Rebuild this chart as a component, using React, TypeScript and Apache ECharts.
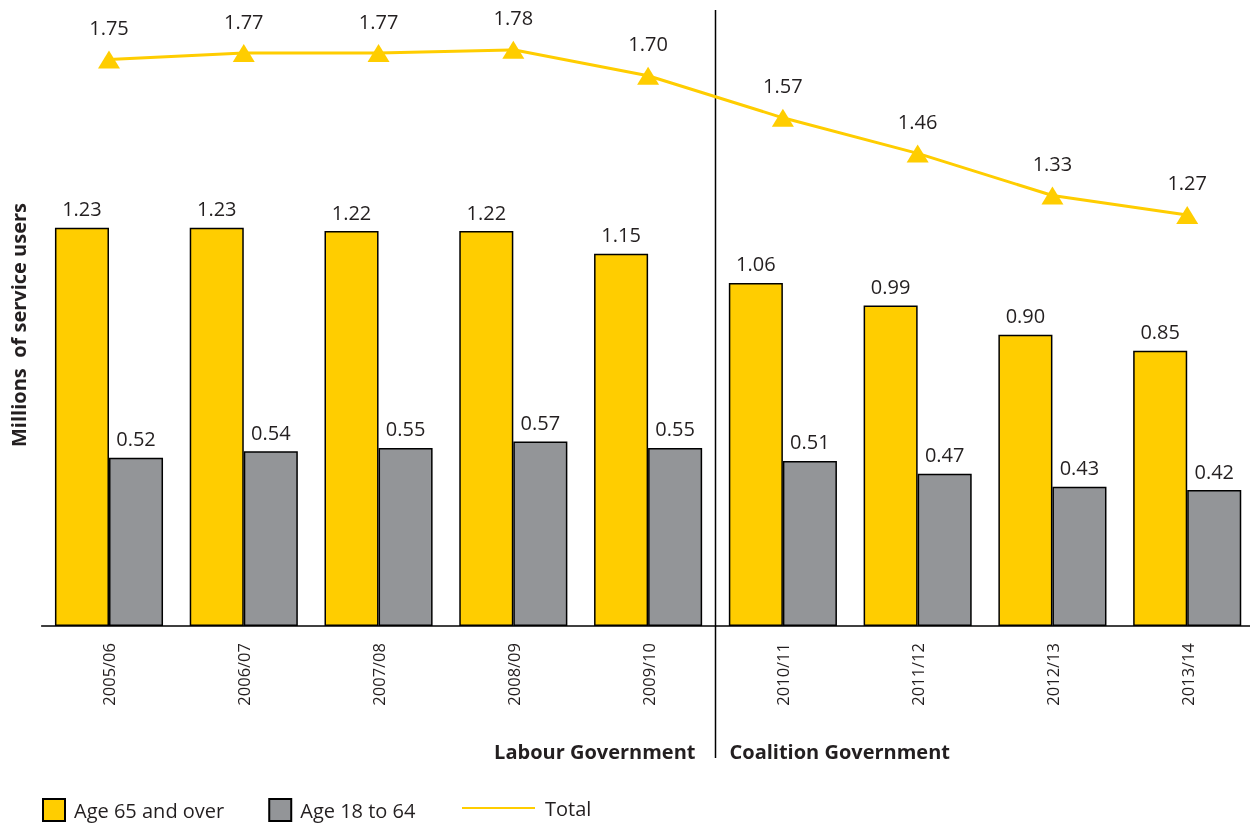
import React, { useEffect, useRef } from "react";
import * as echarts from "echarts";

const categories = ["2005/06", "2006/07", "2007/08", "2008/09", "2009/10", "2010/11", "2011/12", "2012/13", "2013/14"];
const age65Plus = [1.23, 1.23, 1.22, 1.22, 1.15, 1.06, 0.99, 0.9, 0.85];
const age18to64 = [0.52, 0.54, 0.55, 0.57, 0.55, 0.51, 0.47, 0.43, 0.42];
const total = [1.75, 1.77, 1.77, 1.78, 1.7, 1.57, 1.46, 1.33, 1.27];
const eraLabels = ["Labour Government", "Coalition Government"];
const lastLabourIndex = 4;

const YELLOW = "#FFCD00";
const GREY = "#939598";
const INK = "#231f20";
const FONT = "'Open Sans', 'Noto Sans', sans-serif";

export default function App() {
  const ref = useRef<HTMLDivElement>(null);

  useEffect(() => {
    if (!ref.current) return;
    const chart = echarts.init(ref.current, undefined, { renderer: "svg" });
    const fmt = (p: any) => Number(p.value).toFixed(2);
    chart.setOption({
      animation: false,
      textStyle: { fontFamily: FONT, color: INK },
      grid: { left: 41.6, top: 11, width: 1213, height: 615, outerBoundsMode: "none", containLabel: false },
      xAxis: {
        type: "category",
        data: categories,
        axisLine: { lineStyle: { color: "#000", width: 1.5 } },
        axisTick: { show: false },
        axisLabel: { rotate: 90, fontSize: 16.5, margin: 17, color: INK, fontFamily: FONT },
      },
      yAxis: {
        type: "value",
        min: 0,
        max: 1.9,
        show: false,
        splitLine: { show: false },
      },
      legend: [
        {
          left: 42,
          top: 798,
          padding: 0,
          itemWidth: 22,
          itemHeight: 22,
          itemGap: 44,
          icon: "rect",
          data: ["Age 65 and over", "Age 18 to 64"],
          textStyle: { fontSize: 20, color: INK, fontFamily: FONT, padding: [0, 0, 0, 4] },
        },
        {
          left: 462,
          top: 798,
          padding: 0,
          itemWidth: 73,
          itemHeight: 22,
          data: [{ name: "Total", icon: "path://M0,10 L73,10 L73,12 L0,12 Z" }],
          textStyle: { fontSize: 20, color: INK, fontFamily: FONT, padding: [0, 0, 0, 5] },
        },
      ],
      series: [
        {
          name: "Age 65 and over",
          type: "bar",
          data: age65Plus,
          barGap: "0%",
          barCategoryGap: "19.8%",
          itemStyle: { color: YELLOW, borderColor: "#000", borderWidth: 1.5 },
          label: { show: true, position: "top", distance: 9, fontSize: 20, color: INK, fontFamily: FONT, formatter: fmt },
        },
        {
          name: "Age 18 to 64",
          type: "bar",
          data: age18to64,
          itemStyle: { color: GREY, borderColor: "#000", borderWidth: 1.5 },
          label: { show: true, position: "top", distance: 9, fontSize: 20, color: INK, fontFamily: FONT, formatter: fmt },
        },
        {
          name: "Total",
          type: "line",
          data: total,
          symbol: "triangle",
          symbolSize: [22, 18],
          lineStyle: { color: YELLOW, width: 3 },
          itemStyle: { color: YELLOW },
          label: { show: true, position: "top", distance: 13, fontSize: 20, color: INK, fontFamily: FONT, formatter: fmt },
        },
      ],
    });

    const xa = chart.convertToPixel({ xAxisIndex: 0 }, lastLabourIndex) as number;
    const xb = chart.convertToPixel({ xAxisIndex: 0 }, lastLabourIndex + 1) as number;
    const divX = Math.floor((xa + xb) / 2) + 0.5;
    chart.setOption({
      graphic: [
        { type: "line", shape: { x1: divX, y1: 10, x2: divX, y2: 758 }, style: { stroke: "#000", lineWidth: 1.5 } },
        {
          type: "text",
          x: divX - 20,
          y: 751,
          style: { text: eraLabels[0], fontSize: 20, fontWeight: "bold", fill: INK, fontFamily: FONT, align: "right", verticalAlign: "middle" },
        },
        {
          type: "text",
          x: divX + 14,
          y: 751,
          style: { text: eraLabels[1], fontSize: 20, fontWeight: "bold", fill: INK, fontFamily: FONT, align: "left", verticalAlign: "middle" },
        },
        {
          type: "text",
          x: 18,
          y: 325,
          rotation: Math.PI / 2,
          style: { text: "Millions  of service users", fontSize: 20, fontWeight: "bold", fill: INK, fontFamily: FONT, align: "center", verticalAlign: "middle" },
        },
      ],
    });

    return () => chart.dispose();
  }, []);

  return <div ref={ref} style={{ position: "fixed", left: 0, top: 0, width: 1250, height: 823 }} />;
}
